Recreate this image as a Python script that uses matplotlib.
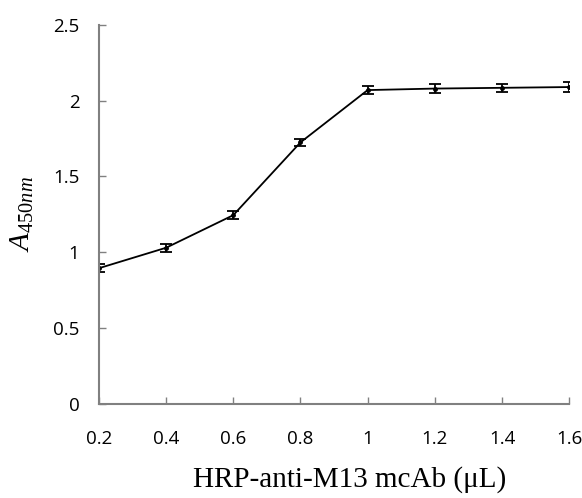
import matplotlib
matplotlib.use('Agg')
import matplotlib.pyplot as plt

plt.rcParams['mathtext.fontset'] = 'custom'
plt.rcParams['mathtext.it'] = 'Liberation Serif:italic'
plt.rcParams['mathtext.rm'] = 'Liberation Serif'

# HRP-anti-M13 mcAb volume (uL) and absorbance at 450 nm
volume = [0.2, 0.4, 0.6, 0.8, 1.0, 1.2, 1.4, 1.6]
a450 = [0.895, 1.03, 1.245, 1.725, 2.07, 2.08, 2.085, 2.09]
err = [0.025, 0.025, 0.025, 0.022, 0.025, 0.03, 0.025, 0.035]

xticks = [0.2, 0.4, 0.6, 0.8, 1.0, 1.2, 1.4, 1.6]
xticklabels = ['0.2', '0.4', '0.6', '0.8', '1', '1.2', '1.4', '1.6']
yticks = [0, 0.5, 1, 1.5, 2, 2.5]
yticklabels = ['0', '0.5', '1', '1.5', '2', '2.5']

fig = plt.figure(figsize=(5.82, 4.98), dpi=100)
ax = fig.add_axes([0.170, 0.189, 0.808, 0.761])

ax.errorbar(volume, a450, yerr=err, color='black', lw=1.3, marker='o', ms=2.5,
            capsize=4, capthick=1.3, elinewidth=1.3)

ax.set_xlim(0.2, 1.6)
ax.set_ylim(0, 2.5)
ax.set_xticks(xticks)
ax.set_xticklabels(xticklabels, family='Open Sans', fontsize=13.5)
ax.set_yticks(yticks)
ax.set_yticklabels(yticklabels, family='Open Sans', fontsize=13.5)

for s in ['top', 'right']:
    ax.spines[s].set_visible(False)
for s in ['left', 'bottom']:
    ax.spines[s].set_color('#808080')
    ax.spines[s].set_linewidth(1.5)
ax.tick_params(direction='in', length=5, width=1, color='#808080')
ax.tick_params(axis='y', pad=14)
ax.tick_params(axis='x', pad=19)

ax.set_xlabel('HRP-anti-M13 mcAb (μL)', family='Liberation Serif', fontsize=21)
ax.xaxis.set_label_coords(0.534, -0.165)
ax.set_ylabel(r'$A_{\mathit{450nm}}$', fontsize=21, labelpad=12)

fig.savefig('out.png', dpi=100)
